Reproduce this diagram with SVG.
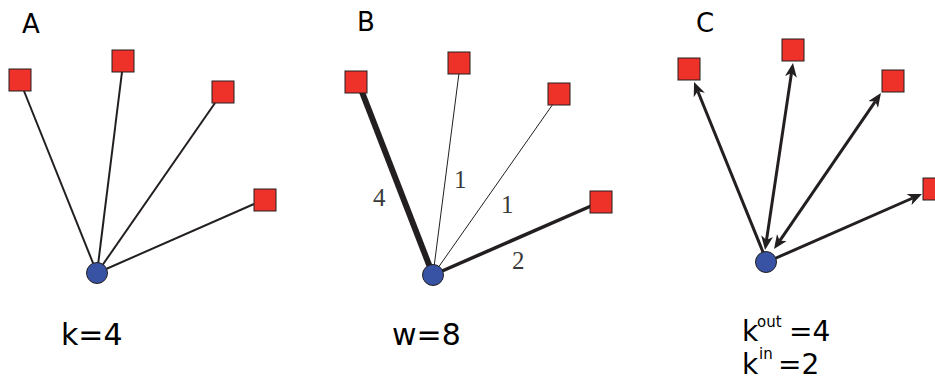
<svg xmlns="http://www.w3.org/2000/svg" width="935" height="381" viewBox="0 0 935 381">
  <style>
    .sq { fill: #ee3129; stroke: #231f20; stroke-width: 1; }
    .hub { fill: #3953a4; stroke: #231f20; stroke-width: 1; }
    .edge { stroke: #231f20; fill: none; stroke-width: 2; }
    .arc { stroke: #231f20; fill: none; stroke-width: 3; }
    .panel { font-family: "DejaVu Sans", "Liberation Sans", sans-serif; font-size: 26px; fill: #000; }
    .eq { font-family: "DejaVu Sans", "Liberation Sans", sans-serif; font-size: 30px; fill: #000; }
    .eqc { font-family: "DejaVu Sans", "Liberation Sans", sans-serif; font-size: 28px; fill: #000; }
    .sup { font-family: "DejaVu Sans", "Liberation Sans", sans-serif; font-size: 15px; fill: #000; }
    .wt { font-family: "Liberation Serif", serif; font-size: 25px; fill: #3a3a3a; }
  </style>
  <defs>
    <marker id="head" markerUnits="userSpaceOnUse" markerWidth="14" markerHeight="12" refX="4" refY="6" orient="auto-start-reverse" viewBox="0 0 14 12">
      <path d="M0,0 L14,6 L0,12 L4,6 z" fill="#231f20"/>
    </marker>
  </defs>

  <!-- Panel A: undirected -->
  <text class="panel" x="22" y="33">A</text>
  <g id="edges-a">
    <line class="edge" x1="97" y1="273" x2="24" y2="91"/>
    <line class="edge" x1="97" y1="273" x2="122" y2="72"/>
    <line class="edge" x1="97" y1="273" x2="215" y2="103"/>
    <line class="edge" x1="97" y1="273" x2="254" y2="204"/>
  </g>
  <g id="a-n1"><rect class="sq" x="9" y="69" width="22" height="22"/></g>
  <g id="a-n2"><rect class="sq" x="112" y="50" width="22" height="22"/></g>
  <g id="a-n3"><rect class="sq" x="212" y="81" width="22" height="22"/></g>
  <g id="a-n4"><rect class="sq" x="254" y="189" width="22" height="22"/></g>
  <g id="a-hub"><circle class="hub" cx="97" cy="273" r="10.5"/></g>
  <text class="eq" x="61" y="345">k=4</text>

  <!-- Panel B: weighted -->
  <text class="panel" x="357" y="31">B</text>
  <g id="edges-b">
    <line stroke="#231f20" stroke-width="6" x1="433" y1="275" x2="362" y2="92"/>
    <line stroke="#231f20" stroke-width="1" x1="433" y1="275" x2="459" y2="73"/>
    <line stroke="#231f20" stroke-width="1" x1="433" y1="275" x2="553" y2="104"/>
    <line stroke="#231f20" stroke-width="3.5" x1="433" y1="275" x2="591" y2="206"/>
  </g>
  <text class="wt" x="373" y="206">4</text>
  <text class="wt" x="454" y="188">1</text>
  <text class="wt" x="501" y="213">1</text>
  <text class="wt" x="512" y="269">2</text>
  <g id="b-n1"><rect class="sq" x="345" y="71" width="22" height="22"/></g>
  <g id="b-n2"><rect class="sq" x="448" y="52" width="22" height="22"/></g>
  <g id="b-n3"><rect class="sq" x="548" y="83" width="22" height="22"/></g>
  <g id="b-n4"><rect class="sq" x="590" y="191" width="22" height="22"/></g>
  <g id="b-hub"><circle class="hub" cx="433" cy="275" r="10.5"/></g>
  <text class="eq" x="392" y="345">w=8</text>

  <!-- Panel C: directed -->
  <text class="panel" x="696" y="32">C</text>
  <g id="edges-c">
    <line class="arc" x1="767" y1="262" x2="697.8" y2="91.3" marker-end="url(#head)"/>
    <line class="arc" x1="766.5" y1="240.1" x2="791.5" y2="72.9" marker-start="url(#head)" marker-end="url(#head)"/>
    <line class="arc" x1="779.7" y1="240.8" x2="875.3" y2="101.3" marker-start="url(#head)" marker-end="url(#head)"/>
    <line class="arc" x1="767" y1="262" x2="912.8" y2="198" marker-end="url(#head)"/>
  </g>
  <g id="c-n1"><rect class="sq" x="678" y="58" width="22" height="22"/></g>
  <g id="c-n2"><rect class="sq" x="782" y="39" width="22" height="22"/></g>
  <g id="c-n3"><rect class="sq" x="882" y="70" width="22" height="22"/></g>
  <g id="c-n4"><rect class="sq" x="923" y="178" width="22" height="22"/></g>
  <g id="c-hub"><circle class="hub" cx="766" cy="262" r="10.5"/></g>
  <text class="eqc" x="742" y="341">k</text>
  <text class="sup" x="757" y="327">out</text>
  <text class="eqc" x="789" y="341">=4</text>
  <text class="eqc" x="742" y="374">k</text>
  <text class="sup" x="759" y="359">in</text>
  <text class="eqc" x="778" y="374">=2</text>
</svg>
